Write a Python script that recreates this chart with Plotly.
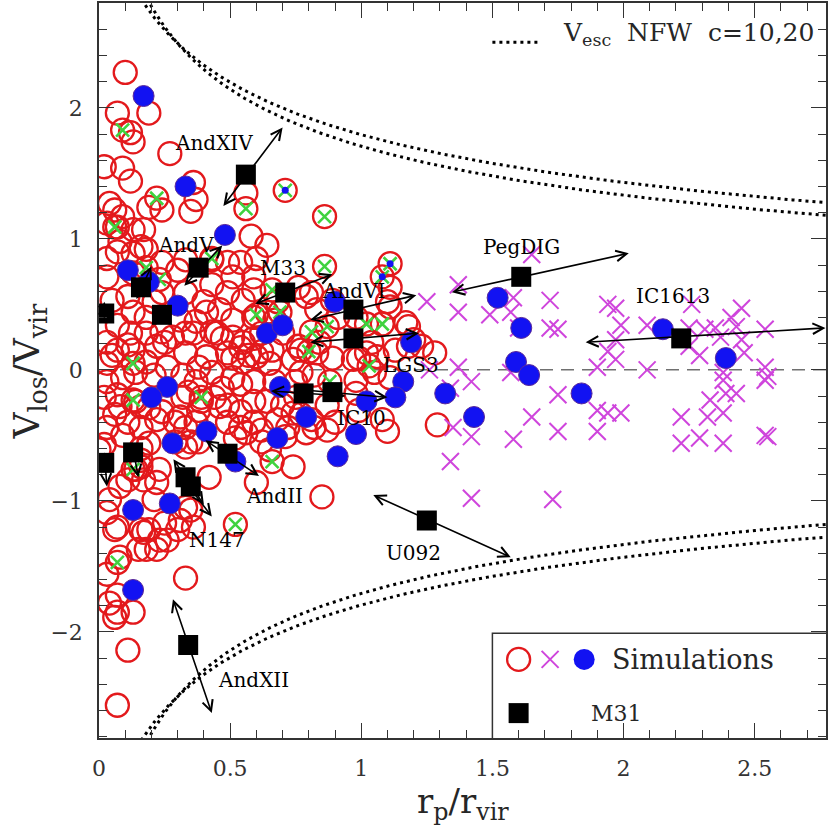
import numpy as np
import plotly.graph_objects as go

# ---------------- simulated satellites ----------------
# open red rings: all simulated subhaloes
ring_x = [0.10, 0.19, 0.07, 0.12, 0.13, 0.27, 0.02, 0.09, 0.12, 0.36, 0.37, 0.35, 0.19, 0.24, 0.04,
          0.06, 0.09, 0.03, 0.07, 0.13, 0.17, 0.08, 0.16, 0.56, 0.58, 0.64, 0.60, 0.54, 0.49, 0.43,
          0.33, 0.30, 0.24, 0.18, 0.13, 0.07, 0.03, 0.03, 0.13, 0.51, 0.59, 0.43, 0.49, 0.59, 0.55,
          0.46, 0.40, 0.33, 0.24, 0.21, 0.11, 0.05, 0.13, 0.18, 0.41, 0.51, 0.59, 0.31, 0.36, 0.45,
          0.51, 0.55, 0.62, 0.07, 0.12, 0.18, 0.03, 0.07, 0.13, 0.22, 0.28, 0.33, 0.41, 0.49, 0.55,
          0.60, 0.03, 0.18, 0.26, 0.38,
          0.81, 0.89, 1.10, 1.18, 0.98, 1.11, 1.18, 1.04, 0.84, 0.89, 0.99, 0.64, 0.68, 0.67, 0.70,
          0.76, 0.74, 0.66, 0.65, 0.98, 0.98, 0.79, 0.83, 0.76, 0.91, 1.11, 1.23, 1.28, 0.77, 0.83,
          0.97, 1.02, 1.06, 1.13, 1.20, 1.17,
          0.05, 0.11, 0.24, 0.25, 0.33, 0.37, 0.43, 0.47, 0.54, 0.59, 0.51, 0.57, 0.62, 0.03, 0.09,
          0.14, 0.21, 0.32, 0.37, 0.43, 0.51, 0.54, 0.47, 0.59, 0.67, 0.75, 0.02, 0.07, 0.14, 0.19,
          0.24, 0.32, 0.34, 0.39, 0.44, 0.49, 0.54, 0.59, 0.64, 0.70, 0.75, 0.06, 0.11, 0.03, 0.09,
          0.16, 0.29, 0.33, 0.37, 0.49, 0.54, 0.59, 0.52, 0.62, 0.72, 0.77, 0.35, 0.29, 0.02, 0.16,
          0.08, 0.16, 0.22, 0.31, 0.38, 0.46, 0.56, 0.62, 0.68, 0.74, 0.81, 0.87, 1.10, 0.71, 0.74,
          0.60, 0.85, 0.42, 0.33, 0.31, 0.36, 0.23, 0.22, 0.17, 0.16, 0.08, 0.04, 0.03, 0.07, 0.16,
          0.19, 0.23, 0.26, 0.22, 0.18, 0.08, 0.03, 0.07, 0.04, 0.07, 0.13, 0.33, 0.11, 0.07, 0.00,
          0.19, 0.38, 0.33, 0.65, 0.79, 0.90, 0.99, 1.08,
          0.35, 0.30, 0.25, 0.17, 0.15, 0.06, 0.11, 0.21, 0.14, 0.16, 0.06,
          0.77, 0.82, 1.05, 1.11, 0.87, 0.82, 1.29]
ring_y = [2.27, 1.96, 1.96, 1.81, 1.74, 1.65, 1.55, 1.54, 1.44, 1.43, 1.30, 1.21, 1.24, 1.22, 1.27,
          1.22, 1.17, 1.12, 1.09, 1.07, 1.07, 0.98, 0.94, 1.35, 1.02, 0.95, 0.85, 0.82, 0.82, 0.84,
          0.84, 0.76, 0.82, 0.92, 0.89, 0.90, 0.85, 0.71, 0.74, 0.71, 0.71, 0.65, 0.59, 0.61, 0.53,
          0.46, 0.52, 0.59, 0.59, 0.52, 0.56, 0.53, 0.44, 0.40, 0.44, 0.38, 0.40, 0.38, 0.28, 0.28,
          0.25, 0.21, 0.28, 0.34, 0.28, 0.28, 0.21, 0.15, 0.15, 0.18, 0.25, 0.13, 0.10, 0.13, 0.06,
          0.10, 0.05, 0.06, 0.02, 0.02,
          0.59, 0.53, 0.52, 0.33, 0.40, 0.63, 0.18, 0.21, 0.21, 0.09, 0.09, 0.44, 0.52, 0.38, 0.28,
          0.18, 0.08, 0.15, 0.05, -0.08, -0.18, 0.56, 0.46, 0.63, 0.40, 0.48, 0.18, 0.13, 0.15, 0.13,
          0.08, 0.13, 0.10, 0.15, 0.23, 0.36,
          0.11, 0.19, 0.29, 0.21, 0.28, 0.37, 0.29, 0.24, 0.17, 0.24, 0.09, 0.11, 0.14, -0.09, -0.06,
          -0.02, -0.04, -0.04, -0.09, -0.02, -0.06, -0.11, -0.14, -0.09, -0.09, -0.09, -0.21, -0.19, -0.24, -0.29,
          -0.32, -0.21, -0.17, -0.24, -0.21, -0.27, -0.32, -0.24, -0.24, -0.27, -0.21, -0.34, -0.40, -0.44, -0.50,
          -0.44, -0.40, -0.44, -0.40, -0.40, -0.44, -0.40, -0.52, -0.55, -0.44, -0.34, -0.55, -0.55, -0.57, -0.60,
          -0.28, -0.28, -0.38, -0.36, -0.31, -0.28, -0.48, -0.46, -0.38, -0.33, -0.38, -0.46, -0.47, -0.51, -0.74,
          -0.86, -0.97, -0.82, -1.05, -1.15, -1.20, -0.76, -0.86, -0.84, -0.74, -0.89, -0.99, -1.09, -1.20, -1.22,
          -1.22, -1.30, -1.30, -1.37, -1.37, -1.43, -1.56, -1.72, -1.78, -1.85, -1.85, -1.59, -2.14, -2.56, -0.61,
          -0.56, -0.55, -0.59, -0.61, -0.48, -0.40, -0.31, -0.38,
          -1.07, -1.22, -1.17, -1.24, -1.37, -1.22, -0.84, -0.99, -0.76, -0.69, -1.89,
          -0.02, -0.04, -0.02, -0.06, -0.27, -0.44, -0.42]

# green crosses: rings flagged as bound systems
bound_x = [0.09, 0.22, 0.56, 0.86, 0.71, 0.86, 1.11, 1.08, 0.66, 0.23, 0.18, 0.60, 0.69, 0.81,
           0.87, 1.02, 1.08, 0.80, 0.13, 0.13, 0.39, 0.88, 1.03, 0.13, 0.66, 0.52, 0.07, 0.06, 0.43]
bound_y = [1.83, 1.31, 1.23, 1.17, 1.37, 0.79, 0.81, 0.71, 0.61, 0.69, 0.78, 0.42, 0.44, 0.29,
           0.33, 0.35, 0.35, 0.14, 0.05, -0.23, -0.21, -0.09, 0.03, -0.76, -0.70, -1.18, -1.47, 1.09, 0.85]

# magenta crosses: backsplash / distant subhaloes
far_x = [1.25, 1.37, 1.37, 1.49, 1.57, 1.58, 1.65, 1.72, 1.60, 1.72, 1.75, 1.94, 1.97, 1.99, 1.97,
         1.97, 1.90, 2.09, 2.09, 2.26, 2.25, 2.31, 2.35, 2.37, 2.41, 2.45, 2.43, 2.45, 2.46, 2.54,
         2.29, 2.25, 1.57, 1.75, 1.65, 1.75, 1.58, 1.90, 1.94, 1.99, 1.90, 2.22, 2.22, 2.29, 2.38,
         2.32, 2.38, 2.33, 2.39, 2.43, 2.38, 2.38, 2.54, 2.54, 2.55, 2.54, 2.55, 1.26, 1.37, 1.42,
         1.34, 1.35, 1.42, 1.34, 1.42, 1.73, 1.94]
far_y = [0.52, 0.65, 0.44, 0.42, 0.44, 0.55, 0.88, 0.53, 0.32, 0.32, 0.31, 0.50, 0.47, 0.34, 0.23,
         0.08, 0.02, 0.00, 0.34, 0.50, 0.32, 0.31, 0.32, 0.25, 0.40, 0.47, 0.33, 0.23, 0.13, 0.31,
         0.11, 0.18, -0.02, -0.19, -0.36, -0.47, -0.53, -0.31, -0.33, -0.33, -0.47, -0.36, -0.56, -0.52, -0.56,
         -0.36, -0.33, -0.23, -0.18, -0.18, -0.08, -0.02, 0.02, -0.08, -0.05, -0.50, -0.51, 0.00, 0.02, -0.09,
         -0.14, -0.44, -0.51, -0.70, -0.98, -0.99, 0.14]

# filled blue discs
disc_x = [0.17, 0.33, 0.48, 0.11, 0.19, 0.30, 0.64, 0.70, 0.26, 0.20, 0.69, 0.41, 0.28, 0.68, 0.52,
          0.79, 0.91, 0.13, 0.27, 0.13, 0.90, 0.98, 1.16, 1.13, 1.02, 1.32, 1.43, 1.19, 1.52, 1.61,
          1.59, 1.64, 1.84, 2.15, 2.39]
disc_y = [2.09, 1.40, 1.03, 0.76, 0.67, 0.49, 0.28, 0.34, -0.13, -0.21, -0.13, -0.47, -0.56, -0.52, -0.70,
          -0.36, -0.66, -1.07, -1.02, -1.68, 0.52, -0.49, -0.09, -0.21, -0.24, -0.18, -0.36, 0.21, 0.55, 0.32,
          0.06, -0.04, -0.18, 0.31, 0.09]

# small blue dots inside bound rings
dot_x = [0.71, 1.11, 1.08]
dot_y = [1.37, 0.81, 0.71]

# ---------------- observed M31 satellites ----------------
m31_x = [0.56, 0.38, 0.16, 0.02, 0.24, 0.71, 0.97, 0.97, 0.78, 0.89, 0.49, 0.33, 0.35, 0.13, 0.02,
         0.34, 1.25, 1.61, 2.22]
m31_y = [1.49, 0.78, 0.63, 0.43, 0.42, 0.59, 0.46, 0.24, -0.18, -0.17, -0.64, -0.82, -0.89, -0.63, -0.71,
         -2.10, -1.15, 0.71, 0.24]
# range allowed by the distance uncertainty (tail -> head), None where not drawn
m31_lo_x = [0.47, 0.32, 0.14, 0.02, None, 0.59, 0.80, 0.80, 0.65, 0.76, 0.40, 0.28, 0.29, 0.125, 0.02,
            0.28, 1.04, 1.34, 1.85]
m31_lo_y = [1.24, 0.63, 0.53, 0.38, None, 0.50, 0.38, 0.21, -0.16, -0.15, -0.53, -0.67, -0.75, -0.55, -0.62,
            -1.74, -0.95, 0.59, 0.21]
m31_hi_x = [0.70, 0.47, 0.20, 0.02, None, 0.89, 1.21, 1.22, 0.94, 1.10, 0.61, 0.40, 0.43, 0.15, 0.03,
            0.43, 1.57, 2.02, 2.77]
m31_hi_y = [1.85, 0.95, 0.79, 0.52, None, 0.73, 0.57, 0.28, -0.20, -0.21, -0.81, -1.03, -1.12, -0.82, -0.89,
            -2.62, -1.43, 0.89, 0.32]

label_text = ["AndXIV", "AndV", "M33", "AndVI", "LGS3", "IC10", "AndII", "N147", "U092", "AndXII",
              "PegDIG", "IC1613"]
label_x = [0.44, 0.33, 0.70, 0.97, 1.19, 1.00, 0.67, 0.45, 1.20, 0.59, 1.61, 2.19]
label_y = [1.73, 0.95, 0.78, 0.60, 0.04, -0.37, -0.96, -1.30, -1.40, -2.37, 0.94, 0.56]

# NFW halo concentrations for the escape-velocity envelopes
nfw_concentration = [10, 20]

SERIF = "DejaVu Serif, Liberation Serif, serif"
RED = "#e3191c"
BLUE = "#1212f2"
MAGENTA = "#cf45dc"
GREEN = "#3fd23f"
INK = "#262626"

XMAX = 2.772
YMIN, YMAX = -2.81, 2.80

fig = go.Figure()

# escape velocity of an NFW halo, in units of V_vir, vs r/r_vir
r = np.linspace(0.04, 3.0, 500)
for c in nfw_concentration:
    mu = np.log(1.0 + c) - c / (1.0 + c)
    vesc = np.sqrt(2.0 * np.log(1.0 + c * r) / (r * mu))
    for sgn in (1, -1):
        fig.add_trace(go.Scatter(x=r, y=sgn * vesc, mode="lines",
                                 line=dict(color="black", width=3, dash="3px,4px"),
                                 hoverinfo="skip", showlegend=False))

# key box for the markers (kept underneath the symbols)
fig.add_shape(type="rect", x0=1.50, x1=2.85, y0=-2.85, y1=-2.01, xref="x", yref="y",
              line=dict(color="#333333", width=1.5), fillcolor="white", layer="below")

# zero-velocity reference line
fig.add_shape(type="line", x0=0, x1=XMAX, y0=0, y1=0, xref="x", yref="y",
              line=dict(color="#707070", width=1.5, dash="13px,8px"), layer="below")

# red rings (bound systems drawn as rings too)
fig.add_trace(go.Scatter(x=ring_x + bound_x, y=ring_y + bound_y, mode="markers",
                         marker=dict(symbol="circle-open", size=23, color=RED,
                                     line=dict(width=2.3, color=RED)),
                         showlegend=False))
fig.add_trace(go.Scatter(x=bound_x, y=bound_y, mode="markers",
                         marker=dict(symbol="x-thin-open", size=13, color=GREEN,
                                     line=dict(width=2.6, color=GREEN)),
                         showlegend=False))
fig.add_trace(go.Scatter(x=far_x, y=far_y, mode="markers",
                         marker=dict(symbol="x-thin-open", size=17, color=MAGENTA,
                                     line=dict(width=2, color=MAGENTA)),
                         showlegend=False))
fig.add_trace(go.Scatter(x=disc_x, y=disc_y, mode="markers",
                         marker=dict(symbol="circle", size=21, color=BLUE,
                                     line=dict(width=1, color="#5a2a9a")),
                         showlegend=False))
fig.add_trace(go.Scatter(x=dot_x, y=dot_y, mode="markers",
                         marker=dict(symbol="circle", size=7, color=BLUE),
                         showlegend=False))

# double-headed arrows for M31 satellites
annotations = []
for x0, y0, x1, y1 in zip(m31_lo_x, m31_lo_y, m31_hi_x, m31_hi_y):
    if x0 is None:
        continue
    annotations.append(dict(x=x1, y=y1, ax=x0, ay=y0, xref="x", yref="y",
                            axref="x", ayref="y", text="", showarrow=True,
                            arrowside="end+start", arrowhead=5, startarrowhead=5,
                            arrowsize=1.3, startarrowsize=1.3, arrowwidth=1.6,
                            arrowcolor="black", standoff=0, startstandoff=0))

fig.add_trace(go.Scatter(x=m31_x, y=m31_y, mode="markers",
                         marker=dict(symbol="square", size=20, color="black"),
                         showlegend=False))

for t, x, y in zip(label_text, label_x, label_y):
    annotations.append(dict(x=x, y=y, xref="x", yref="y", text=t, showarrow=False,
                            font=dict(family=SERIF, size=20, color="black"),
                            xanchor="center", yanchor="middle"))

# key for the escape-velocity curves
fig.add_shape(type="line", x0=1.50, x1=1.68, y0=2.50, y1=2.50, xref="x", yref="y",
              line=dict(color="black", width=3, dash="3px,4px"))
annotations.append(dict(x=1.76, y=2.56, xref="x", yref="y", showarrow=False,
                        text="V<sub>esc</sub>  NFW  c=10,20", xanchor="left", yanchor="middle",
                        font=dict(family=SERIF, size=25, color=INK)))

# marker key symbols
fig.add_trace(go.Scatter(x=[1.60], y=[-2.21], mode="markers",
                         marker=dict(symbol="circle-open", size=23, color=RED,
                                     line=dict(width=2.3, color=RED)),
                         showlegend=False))
fig.add_trace(go.Scatter(x=[1.72], y=[-2.21], mode="markers",
                         marker=dict(symbol="x-thin-open", size=17, color=MAGENTA,
                                     line=dict(width=2, color=MAGENTA)),
                         showlegend=False))
fig.add_trace(go.Scatter(x=[1.85], y=[-2.21], mode="markers",
                         marker=dict(symbol="circle", size=21, color=BLUE),
                         showlegend=False))
fig.add_trace(go.Scatter(x=[1.60], y=[-2.62], mode="markers",
                         marker=dict(symbol="square", size=20, color="black"),
                         showlegend=False))
annotations.append(dict(x=1.95, y=-2.21, xref="x", yref="y", showarrow=False, text="Simulations",
                        xanchor="left", yanchor="middle", font=dict(family=SERIF, size=27, color=INK)))
annotations.append(dict(x=1.87, y=-2.62, xref="x", yref="y", showarrow=False, text="M31",
                        xanchor="left", yanchor="middle", font=dict(family=SERIF, size=22, color=INK)))

# axis titles
annotations.append(dict(x=0.5, y=-0.089, xref="paper", yref="paper", showarrow=False,
                        text="r<sub>p</sub>/r<sub>vir</sub>", xanchor="center", yanchor="middle",
                        font=dict(family=SERIF, size=34, color=INK)))
annotations.append(dict(x=-0.095, y=0.5, xref="paper", yref="paper", showarrow=False,
                        text="V<sub>los</sub>/V<sub>vir</sub>", textangle=-90,
                        xanchor="center", yanchor="middle",
                        font=dict(family=SERIF, size=36, color=INK)))

axis_common = dict(showline=True, linecolor="#333333", linewidth=1.5, mirror="allticks",
                   ticks="inside", ticklen=15, tickwidth=1.3, tickcolor="#333333",
                   showgrid=False, zeroline=False,
                   tickfont=dict(family=SERIF, size=22, color="#333333"),
                   ticklabelstandoff=10)

fig.update_layout(
    width=828, height=832,
    margin=dict(l=99, r=0, t=3, b=94),
    paper_bgcolor="white", plot_bgcolor="white",
    showlegend=False,
    annotations=annotations,
    xaxis=dict(range=[0, XMAX], tick0=0, dtick=0.5,
               minor=dict(dtick=0.1, ticklen=8, ticks="inside", tickcolor="#333333", tickwidth=1.2),
               **axis_common),
    yaxis=dict(range=[YMIN, YMAX], tick0=0, dtick=1,
               minor=dict(dtick=0.2, ticklen=8, ticks="inside", tickcolor="#333333", tickwidth=1.2),
               **axis_common),
)

fig.write_html("out.html")
